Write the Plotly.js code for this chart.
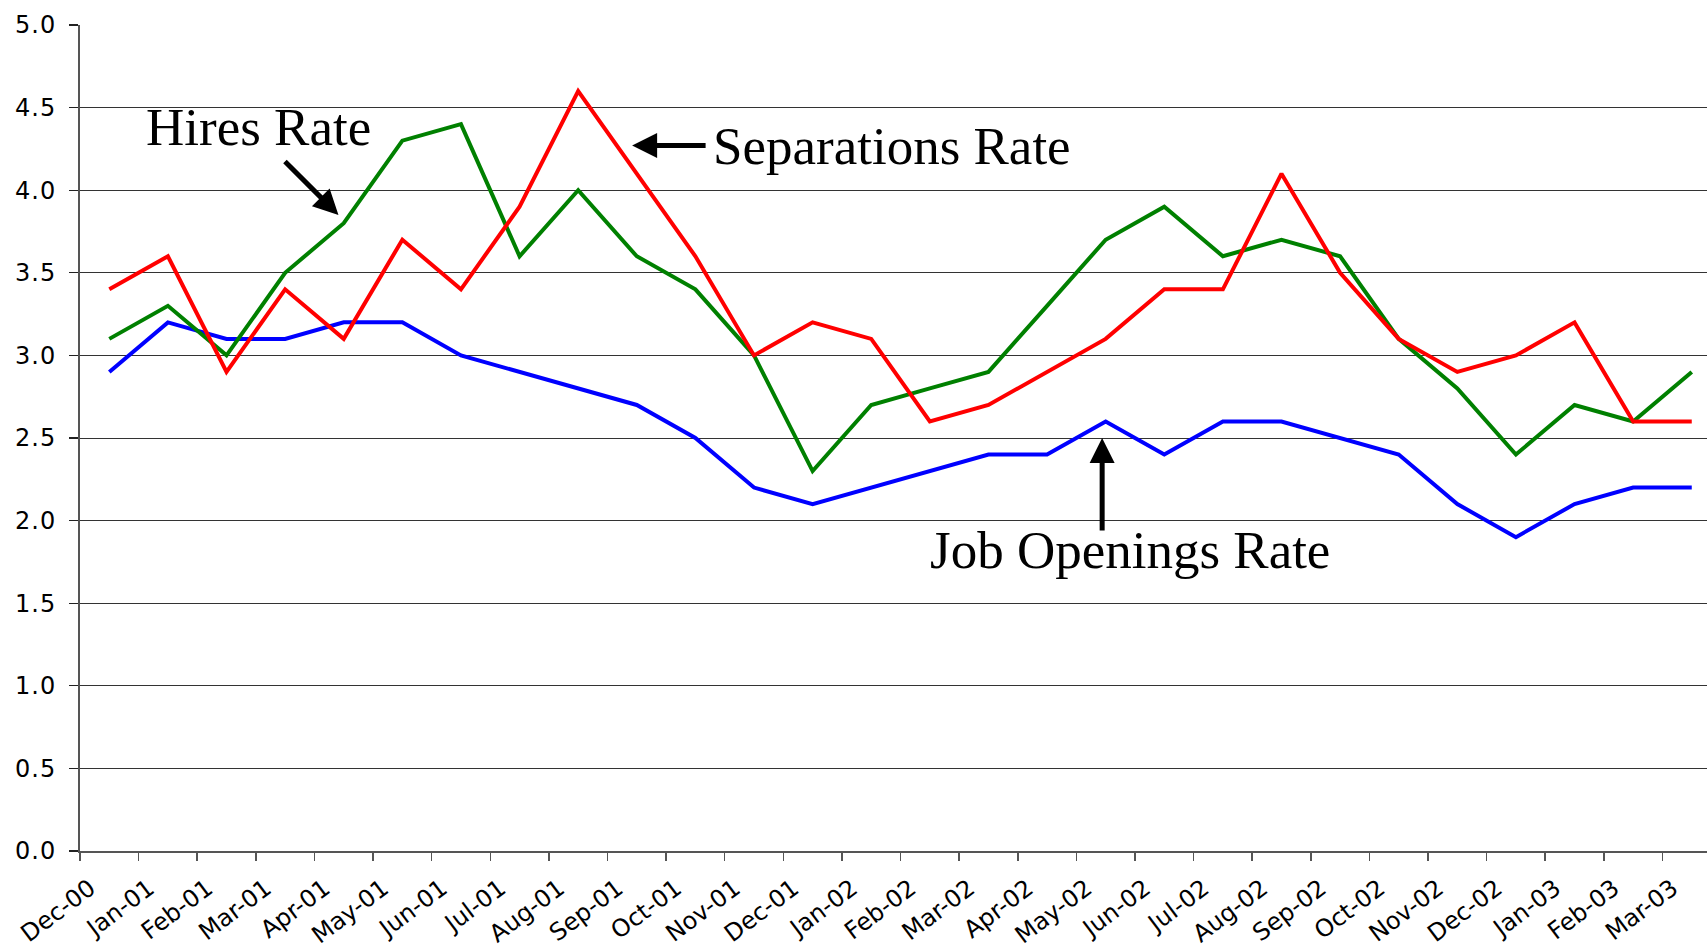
<!DOCTYPE html>
<html>
<head>
<meta charset="utf-8">
<script src="https://cdn.plot.ly/plotly-3.0.1.min.js"></script>
<style>
html,body{margin:0;padding:0;background:#fff;}
#chart{width:1707px;height:950px;}
#chart .ytick text{letter-spacing:1px;}
</style>
</head>
<body>
<div id="chart"></div>
<script>
const months = ["Dec-00","Jan-01","Feb-01","Mar-01","Apr-01","May-01","Jun-01","Jul-01","Aug-01","Sep-01","Oct-01","Nov-01","Dec-01","Jan-02","Feb-02","Mar-02","Apr-02","May-02","Jun-02","Jul-02","Aug-02","Sep-02","Oct-02","Nov-02","Dec-02","Jan-03","Feb-03","Mar-03"];
const jobOpenings = [2.9,3.2,3.1,3.1,3.2,3.2,3.0,2.9,2.8,2.7,2.5,2.2,2.1,2.2,2.3,2.4,2.4,2.6,2.4,2.6,2.6,2.5,2.4,2.1,1.9,2.1,2.2,2.2];
const hires = [3.1,3.3,3.0,3.5,3.8,4.3,4.4,3.6,4.0,3.6,3.4,3.0,2.3,2.7,2.8,2.9,3.3,3.7,3.9,3.6,3.7,3.6,3.1,2.8,2.4,2.7,2.6,2.9];
const separations = [3.4,3.6,2.9,3.4,3.1,3.7,3.4,3.9,4.6,4.1,3.6,3.0,3.2,3.1,2.6,2.7,2.9,3.1,3.4,3.4,4.1,3.5,3.1,2.9,3.0,3.2,2.6,2.6];

// each month is plotted in the middle of its category slot; ticks sit on slot boundaries
const xs = months.map((m, i) => i + 0.5);
const tickPos = months.map((m, i) => i);

function series(name, y, color) {
  return {type: "scatter", mode: "lines", name: name, x: xs, y: y,
          line: {color: color, width: 4}, hoverinfo: "x+y"};
}

const traces = [
  series("Job Openings Rate", jobOpenings, "#0000FF"),
  series("Hires Rate", hires, "#008000"),
  series("Separations Rate", separations, "#FF0000")
];

const yTickFont = {family: "'DejaVu Sans', Verdana, sans-serif", size: 24, color: "#000"};
const xTickFont = {family: "'DejaVu Sans', Verdana, sans-serif", size: 24, color: "#000"};
const serif = {family: "'Liberation Serif', 'Times New Roman', serif", size: 53, color: "#000"};
const arrowBase = {text: "", showarrow: true, arrowhead: 2, arrowsize: 1, arrowwidth: 5,
                   arrowcolor: "#000", xref: "x", yref: "y", axref: "pixel", ayref: "pixel"};

const layout = {
  width: 1707, height: 950,
  margin: {l: 80, r: 0, t: 25, b: 99},
  paper_bgcolor: "#fff", plot_bgcolor: "#fff",
  showlegend: false,
  font: yTickFont,
  xaxis: {
    range: [0, 27.76], tickmode: "array", tickvals: tickPos, ticktext: months,
    tickangle: -37, ticks: "outside", ticklen: 8, tickcolor: "#555", tickwidth: 1.5,
    showgrid: false, zeroline: false, showline: true, linecolor: "#555", linewidth: 2,
    tickfont: xTickFont, ticklabelshift: 10, ticklabelstandoff: 4, automargin: false
  },
  yaxis: {
    range: [0, 5], dtick: 0.5, tickformat: ".1f", ticks: "outside", ticklen: 9,
    tickcolor: "#222", tickwidth: 1.2,
    showgrid: true, gridcolor: "#333", gridwidth: 1, zeroline: false,
    showline: true, linecolor: "#555", linewidth: 2,
    tickfont: yTickFont, ticklabelstandoff: 8, automargin: false
  },
  annotations: [
    {text: "Hires Rate", x: 3.04, y: 4.38, xref: "x", yref: "y", showarrow: false, font: serif, xanchor: "center", yanchor: "middle"},
    {text: "Separations Rate", x: 13.86, y: 4.27, xref: "x", yref: "y", showarrow: false, font: serif, xanchor: "center", yanchor: "middle"},
    {text: "Job Openings Rate", x: 17.92, y: 1.82, xref: "x", yref: "y", showarrow: false, font: serif, xanchor: "center", yanchor: "middle"},
    Object.assign({}, arrowBase, {x: 4.41, y: 3.85, ax: -55, ay: -55}),
    Object.assign({}, arrowBase, {x: 9.42, y: 4.27, ax: 75, ay: 0}),
    Object.assign({}, arrowBase, {x: 17.44, y: 2.50, ax: 0, ay: 94})
  ]
};

Plotly.newPlot("chart", traces, layout, {displayModeBar: false, staticPlot: true});
</script>
</body>
</html>
